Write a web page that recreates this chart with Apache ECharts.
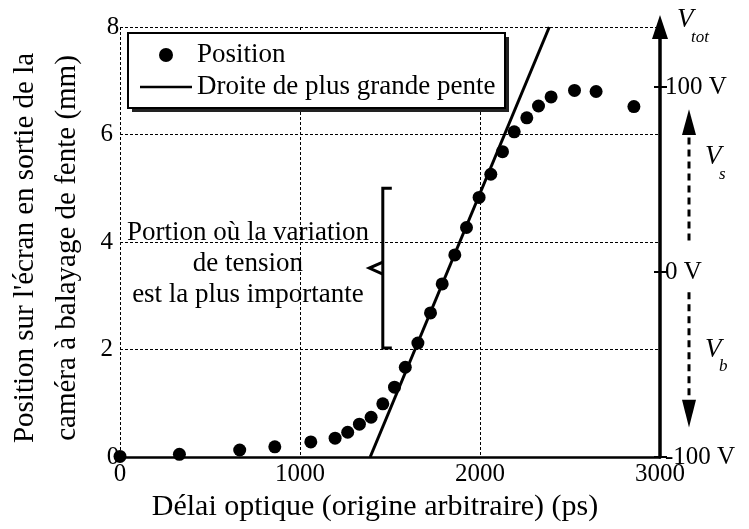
<!DOCTYPE html>
<html>
<head>
<meta charset="utf-8">
<script src="https://cdn.jsdelivr.net/npm/echarts@6/dist/echarts.min.js"></script>
<style>
  html, body { margin: 0; padding: 0; background: #fff; }
  #chart { width: 749px; height: 529px; }
</style>
</head>
<body>
<div id="chart"></div>
<script>
// Measured streak-camera positions versus optical delay
const delayPs = [0, 330, 665, 860, 1060, 1195, 1265, 1330, 1395, 1460, 1525, 1585, 1655, 1725, 1790, 1860, 1925, 1995, 2060, 2125, 2190, 2260, 2325, 2395, 2525, 2645, 2855];
const positionMm = [0.01, 0.05, 0.13, 0.19, 0.28, 0.35, 0.46, 0.61, 0.74, 0.99, 1.30, 1.67, 2.12, 2.68, 3.22, 3.76, 4.27, 4.83, 5.26, 5.68, 6.05, 6.31, 6.53, 6.70, 6.82, 6.80, 6.52];

// Steepest-slope line, given by its two end points
const slopeDelayPs = [1390, 2385];
const slopePositionMm = [0, 8];

// Axis ticks
const delayTicks = [0, 1000, 2000, 3000];
const positionTicks = [0, 2, 4, 6, 8];
const voltageTicks = [-100, 0, 100];

const FONT = '"Liberation Serif", "Times New Roman", serif';
const voltMin = -100, voltMax = 132.4;

const chart = echarts.init(document.getElementById('chart'), null, { renderer: 'canvas' });

const dash = [3, 2];
const option = {
  animation: false,
  backgroundColor: '#fff',
  textStyle: { fontFamily: FONT, color: '#000' },
  grid: { left: 120, right: 89, top: 27, bottom: 72, containLabel: false, outerBoundsMode: 'none' },
  legend: {
    orient: 'vertical',
    left: 128, top: 33,
    padding: [7, 8, 6, 12],
    itemGap: 2,
    itemWidth: 52, itemHeight: 14,
    itemTextGap: 6,
    z: 5,
    textStyle: { fontFamily: FONT, fontSize: 27, color: '#000', lineHeight: 30 },
    data: [
      { name: 'Position', icon: 'circle', itemStyle: { opacity: 1 } },
      { name: 'Droite de plus grande pente', icon: 'path://M0,0 L52,0 L52,2.5 L0,2.5 Z' }
    ]
  },
  xAxis: {
    type: 'value', min: delayTicks[0], max: delayTicks[delayTicks.length - 1], interval: 1000,
    name: 'Délai optique (origine arbitraire) (ps)',
    nameLocation: 'middle', nameGap: 31,
    nameTextStyle: { fontFamily: FONT, fontSize: 30, color: '#000', padding: [0, 30, 0, 0] },
    axisLine: { show: true, onZero: false, lineStyle: { color: '#000', width: 2.5 } },
    axisTick: { show: false },
    axisLabel: {
      fontFamily: FONT, fontSize: 25, color: '#000', margin: 5,
      alignMinLabel: 'center', alignMaxLabel: 'center',
      formatter: v => String(v)
    },
    splitLine: { show: true, lineStyle: { color: '#000', width: 1, type: dash } }
  },
  yAxis: [
    {
      type: 'value', min: positionTicks[0], max: positionTicks[positionTicks.length - 1], interval: 2,
      name: "Position sur l'écran en sortie de la\ncaméra à balayage de fente (mm)",
      nameLocation: 'middle', nameGap: 32,
      nameTextStyle: { fontFamily: FONT, fontSize: 29, color: '#000', lineHeight: 42, padding: [0, 12, 0, 0] },
      axisLine: { show: false },
      axisTick: { show: false },
      axisLabel: { fontFamily: FONT, fontSize: 25, color: '#000', margin: 7, alignMinLabel: 'center', alignMaxLabel: 'center' },
      splitLine: { show: true, lineStyle: { color: '#000', width: 1, type: dash } }
    },
    {
      type: 'value', position: 'right', min: voltMin, max: voltMax,
      axisLine: { show: true, lineStyle: { color: '#000', width: 3.5 }, symbol: ['none', 'triangle'], symbolSize: [16, 24] },
      axisTick: { show: true, customValues: voltageTicks, length: 7, lineStyle: { color: '#000', width: 2 } },
      axisLabel: { show: true, customValues: voltageTicks, formatter: v => v + ' V', fontFamily: FONT, fontSize: 25, color: '#000', margin: 5 },
      splitLine: { show: false }
    },
    {
      type: 'value', position: 'right', min: voltMin, max: voltMax,
      axisLine: { show: false },
      axisTick: { show: true, inside: true, customValues: voltageTicks, length: 6, lineStyle: { color: '#000', width: 2 } },
      axisLabel: { show: false },
      splitLine: { show: false }
    }
  ],
  series: [
    {
      name: 'Position', type: 'scatter', xAxisIndex: 0, yAxisIndex: 0,
      symbol: 'circle', symbolSize: 13,
      itemStyle: { color: '#000', opacity: 1 },
      data: delayPs.map((d, i) => [d, positionMm[i]]),
      z: 3
    },
    {
      name: 'Droite de plus grande pente', type: 'line', xAxisIndex: 0, yAxisIndex: 0,
      showSymbol: false, symbol: 'none',
      lineStyle: { color: '#000', width: 3 },
      itemStyle: { color: '#000' },
      clip: true,
      data: slopeDelayPs.map((d, i) => [d, slopePositionMm[i]]),
      z: 4
    }
  ]
};
chart.setOption(option);

// Annotations: legend frame, brace, explanatory text and voltage-range arrows
function toPx(x, y) { return chart.convertToPixel({ xAxisIndex: 0, yAxisIndex: 0 }, [x, y]); }
function voltPx(v) { return chart.convertToPixel({ yAxisIndex: 1 }, v); }

const braceX = 1460, braceTop = 5.0, braceBottom = 2.03, braceTipX = 1385;
const bTop = toPx(braceX, braceTop), bBot = toPx(braceX, braceBottom);
const bMidY = (bTop[1] + bBot[1]) / 2;
const bTip = toPx(braceTipX, 0)[0];
const serif = 9;

const noteCenter = toPx(711, 3.6);
const rightEdge = toPx(3000, 0)[0];
const arrowX = rightEdge + 29;

const vsFrom = voltPx(17), vsBase = voltPx(74), vsTip = voltPx(88);
const vbFrom = voltPx(-11), vbBase = voltPx(-69), vbTip = voltPx(-84);
const head = 7;

const legendBox = { x: 128, y: 33, width: 377, height: 75 };

function voltSymbol(x, y, sub) {
  return [
    { type: 'text', z: 10, x: x, y: y,
      style: { text: 'V', font: 'italic 27px ' + FONT, fill: '#000', align: 'left', verticalAlign: 'middle' } },
    { type: 'text', z: 10, x: x + 14, y: y + 17,
      style: { text: sub, font: 'italic 17px ' + FONT, fill: '#000', align: 'left', verticalAlign: 'middle' } }
  ];
}

const graphics = [
  // legend frame with drop shadow
  {
    type: 'rect', z: 3,
    shape: { x: legendBox.x + 4, y: legendBox.y + 4, width: legendBox.width, height: legendBox.height },
    style: { fill: '#222' }
  },
  {
    type: 'rect', z: 3,
    shape: legendBox,
    style: { fill: '#fff', stroke: '#000', lineWidth: 2 }
  },
  {
    type: 'polyline', z: 10,
    shape: { points: [[bTop[0] + serif, bTop[1]], [bTop[0], bTop[1]], [bBot[0], bBot[1]], [bBot[0] + serif, bBot[1]]] },
    style: { stroke: '#000', lineWidth: 3, fill: null }
  },
  {
    type: 'polyline', z: 10,
    shape: { points: [[bTop[0], bMidY - 6], [bTip, bMidY], [bTop[0], bMidY + 6]] },
    style: { stroke: '#000', lineWidth: 3, fill: null }
  },
  {
    type: 'text', z: 10,
    x: noteCenter[0], y: noteCenter[1],
    style: {
      text: 'Portion où la variation\nde tension\nest la plus importante',
      font: '27px ' + FONT, fill: '#000', align: 'center', verticalAlign: 'middle', lineHeight: 31
    }
  },
  // V_s arrow (dashed, pointing up)
  {
    type: 'line', z: 10,
    shape: { x1: arrowX, y1: vsFrom, x2: arrowX, y2: vsBase },
    style: { stroke: '#000', lineWidth: 3, lineDash: [7, 5] }
  },
  {
    type: 'polygon', z: 10,
    shape: { points: [[arrowX - head, vsBase], [arrowX + head, vsBase], [arrowX, vsTip]] },
    style: { fill: '#000' }
  },
  // V_b arrow (dashed, pointing down)
  {
    type: 'line', z: 10,
    shape: { x1: arrowX, y1: vbFrom, x2: arrowX, y2: vbBase },
    style: { stroke: '#000', lineWidth: 3, lineDash: [7, 5] }
  },
  {
    type: 'polygon', z: 10,
    shape: { points: [[arrowX - head, vbBase], [arrowX + head, vbBase], [arrowX, vbTip]] },
    style: { fill: '#000' }
  }
]
  .concat(voltSymbol(rightEdge + 17, voltPx(136), 'tot'))
  .concat(voltSymbol(arrowX + 16, voltPx(62), 's'))
  .concat(voltSymbol(arrowX + 16, voltPx(-42), 'b'));

chart.setOption({ graphic: graphics });
</script>
</body>
</html>
